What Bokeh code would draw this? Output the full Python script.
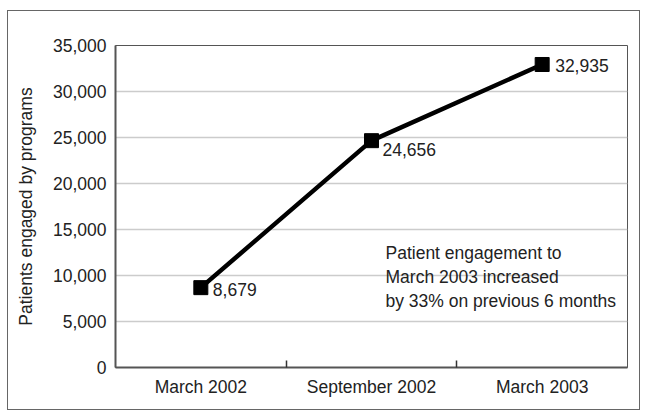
from bokeh.plotting import figure
from bokeh.models import (ColumnDataSource, Range1d, FixedTicker, NumeralTickFormatter,
                          LabelSet, Label, InlineStyleSheet)
from bokeh.core.properties import value
from bokeh.embed import file_html
from bokeh.resources import INLINE

# Patients engaged by programs at each reporting point
periods = ["March 2002", "September 2002", "March 2003"]
patients = [8679, 24656, 32935]
y_ticks = [0, 5000, 10000, 15000, 20000, 25000, 30000, 35000]
note = "Patient engagement to\nMarch 2003 increased\nby 33% on previous 6 months"

# label placement relative to each marker (pixels)
label_dx = [12, 11, 13]
label_dy = [-2, -9, -1]

FONT = "Liberation Sans"
SIZE = "17.5px"
TEXT = "#222222"

xs = [i + 0.5 for i in range(len(periods))]
src = ColumnDataSource(dict(
    x=xs, y=patients,
    label=[f"{v:,}" for v in patients],
    dx=label_dx, dy=label_dy,
))

# thin frame drawn around the whole chart
frame_css = InlineStyleSheet(css="""
:host { position: relative; }
:host::after {
  content: "";
  position: absolute;
  left: 7px; top: 10px; width: 633px; height: 400px;
  border: 1.5px solid #666666;
  box-sizing: border-box;
  pointer-events: none;
}
""")

p = figure(width=647, height=418, output_backend="svg", toolbar_location=None,
           x_range=Range1d(0, len(periods)), y_range=Range1d(0, 35000),
           min_border_left=115, min_border_right=20, min_border_top=45, min_border_bottom=51,
           stylesheets=[frame_css])
p.background_fill_color = "white"
p.border_fill_color = "white"
p.outline_line_color = "#555555"
p.outline_line_width = 1

# x axis: labels at category centres, small inward ticks at category boundaries
xa = p.xaxis[0]
xa.ticker = FixedTicker(ticks=xs, minor_ticks=list(range(1, len(periods))))
xa.major_label_overrides = {x: lab for x, lab in zip(xs, periods)}
xa.major_tick_in = 0
xa.major_tick_out = 0
xa.minor_tick_in = 7
xa.minor_tick_out = 0
xa.minor_tick_line_color = "#333333"
xa.minor_tick_line_width = 1.5
xa.axis_line_color = "#555555"
xa.axis_line_width = 2
xa.major_label_standoff = 9
xa.major_label_text_font = FONT
xa.major_label_text_font_size = SIZE
xa.major_label_text_color = TEXT

ya = p.yaxis[0]
ya.ticker = FixedTicker(ticks=y_ticks)
ya.formatter = NumeralTickFormatter(format="0,0")
ya.major_tick_in = 0
ya.major_tick_out = 0
ya.minor_tick_line_color = None
ya.axis_line_color = "#555555"
ya.axis_line_width = 2
ya.major_label_standoff = 9
ya.major_label_text_font = FONT
ya.major_label_text_font_size = SIZE
ya.major_label_text_color = TEXT
ya.axis_label = "Patients engaged by programs"
ya.axis_label_text_font = FONT
ya.axis_label_text_font_size = SIZE
ya.axis_label_text_font_style = "normal"
ya.axis_label_text_color = TEXT
ya.axis_label_standoff = 14

p.xgrid.grid_line_color = None
p.ygrid.grid_line_color = "#cccccc"
p.ygrid.grid_line_width = 1.5

p.line("x", "y", source=src, line_color="black", line_width=4.5)
p.scatter("x", "y", source=src, marker="square", size=14, fill_color="black", line_color="black")

p.add_layout(LabelSet(x="x", y="y", text="label", source=src, x_offset="dx", y_offset="dy",
                      text_font=value(FONT), text_font_size=value(SIZE), text_color=TEXT,
                      text_align="left", text_baseline="middle"))

p.add_layout(Label(x=1.582, y=13500, text=note, text_font=FONT, text_font_size=SIZE,
                   text_color=TEXT, text_align="left", text_baseline="top",
                   text_line_height=1.2))

open("out.html", "w").write(file_html(p, INLINE))
